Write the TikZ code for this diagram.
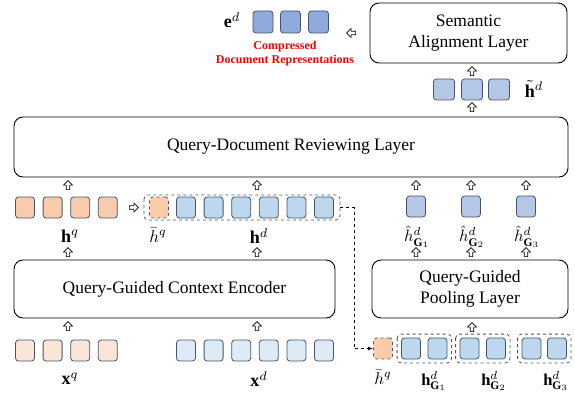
\RequirePackage{fix-cm}
\documentclass[tikz,border=0pt]{standalone}
\usepackage{graphicx}
\usepackage{fontspec}
\setmainfont{Liberation Serif}
\usetikzlibrary{positioning,shapes.arrows,arrows.meta}
\definecolor{qdark}{HTML}{F8CBAD}
\definecolor{qlight}{HTML}{FBE5D6}
\definecolor{ddark}{HTML}{BDD7EE}
\definecolor{dlight}{HTML}{DEEBF7}
\definecolor{tcol}{HTML}{B4C7E7}
\definecolor{ecol}{HTML}{8FAADC}
\definecolor{edgec}{HTML}{44546A}
\newcommand\lab[2][1.8]{\scalebox{#1}{$#2$}}
\tikzset{
  cell/.style={draw=edgec, line width=.8pt, rounded corners=3pt, minimum width=19pt, minimum height=21pt, inner sep=0pt},
  dcell/.style={cell, dashed, fill=qdark},
  grp/.style={draw=edgec, dashed, line width=.8pt, rounded corners=4pt},
  layer/.style={draw, line width=.9pt, rounded corners=9pt, align=center, font=\fontsize{17.5}{21}\selectfont},
  up/.style={single arrow, draw, fill=white, line width=.6pt, minimum height=9pt, minimum width=9pt, single arrow head extend=2.5pt, inner sep=1.3pt, rotate=90},
  lbl/.style={inner sep=0pt}
}
\begin{document}
\begin{tikzpicture}[x=1pt, y=-1pt]
\useasboundingbox (0,0) rectangle (575,398);
% layers
\node[layer, minimum width=197pt, minimum height=60pt] (align) at (468.5,33) {Semantic\\Alignment Layer};
\node[layer, minimum width=554pt, minimum height=60pt] (review) at (291,147) {Query-Document Reviewing Layer};
\node[layer, minimum width=321pt, minimum height=58pt] (enc) at (174.5,289) {Query-Guided Context Encoder};
\node[layer, minimum width=196pt, minimum height=58pt] (pool) at (470,289) {Query-Guided\\Pooling Layer};

% inputs
\foreach \i in {1,...,4}
  \node[cell, fill=qlight] (xq\i) at ({25+27.6*(\i-1)},350.5) {};
\foreach \i in {1,...,6}
  \node[cell, fill=dlight] (xd\i) at ({186+27.6*(\i-1)},350.5) {};
\node[lbl] (xql) at (70,379) {\lab{\mathbf{x}^q}};
\node[lbl] (xdl) at (259,379) {\lab{\mathbf{x}^d}};

% encoder outputs
\foreach \i in {1,...,4}
  \node[cell, fill=qdark] (hq\i) at ({25+27.6*(\i-1)},207.5) {};
\node[dcell] (hb) at (159,207.5) {};
\foreach \i in {1,...,6}
  \node[cell, fill=ddark] (hd\i) at ({186+27.6*(\i-1)},207.5) {};
\draw[grp] (144,195) rectangle (340,220);
\coordinate (grp) at (340,207.5);
\node[lbl] (hql) at (70,236) {\lab{\mathbf{h}^q}};
\node[lbl] (hbl) at (158,235) {\lab[1.7]{\bar{h}^q}};
\node[lbl] (hdl) at (259,236) {\lab{\mathbf{h}^d}};

% pooling inputs
\node[dcell] (hb2) at (383,348.5) {};
\foreach \g/\a/\b in {1/411/437.5, 2/469.5/496, 3/531.5/557}{
  \node[cell, fill=ddark] (g\g a) at (\a,348.5) {};
  \node[cell, fill=ddark] (g\g b) at (\b,348.5) {};
  \draw[grp] ([shift={(-4pt,3.5pt)}]g\g a.north west) rectangle ([shift={(4pt,-3.5pt)}]g\g b.south east);
}
\node[lbl] (hb2l) at (383,377) {\lab[1.7]{\bar{h}^q}};
\node[lbl] (g1l) at (434,381) {\lab[1.65]{\mathbf{h}^d_{\mathbf{G}_1}}};
\node[lbl] (g2l) at (494,381) {\lab[1.65]{\mathbf{h}^d_{\mathbf{G}_2}}};
\node[lbl] (g3l) at (556,381) {\lab[1.65]{\mathbf{h}^d_{\mathbf{G}_3}}};

% pooled
\foreach \i/\x in {1/416, 2/471, 3/526}{
  \node[cell, fill=tcol] (p\i) at (\x,206.5) {};
  \node[lbl] (p\i l) at (\x+1,237) {\lab[1.65]{\hat{h}^d_{\mathbf{G}_\i}}};
}

% reviewed and compressed
\foreach \i/\x in {1/444, 2/472, 3/499}
  \node[cell, minimum width=21pt, fill=tcol] (t\i) at (\x,89.5) {};
\node[lbl] (tl) at (534,89) {\lab{\tilde{\mathbf{h}}^d}};
\foreach \i/\x in {1/263, 2/290.5, 3/318.5}
  \node[cell, minimum width=20pt, minimum height=22pt, fill=ecol] (e\i) at (\x,22) {};
\node[lbl] (el) at (232,20) {\lab{\mathbf{e}^d}};
\node[text=red, font=\bfseries\fontsize{12}{14}\selectfont, align=center] (cdr) at (285,54) {Compressed\\Document Representations};

% block arrows
\foreach \x/\y in {68/327, 257/327, 68/253, 257/253, 68/186, 257/186,
                  416/253, 471/253, 526/253, 416/186, 471/186, 526/186,
                  472/328, 472/108, 472/72}
  \node[up] (u\x-\y) at (\x,\y) {};
\node[up, rotate=-90] (rarr) at (133,207.5) {};
\node[up, rotate=90] (larr) at (352,33) {};

% dashed link
\draw[dashed, line width=.8pt, -{Latex[length=5pt]}] (grp) -- ++(14,0) |- (hb2.west);
\end{tikzpicture}
\end{document}
